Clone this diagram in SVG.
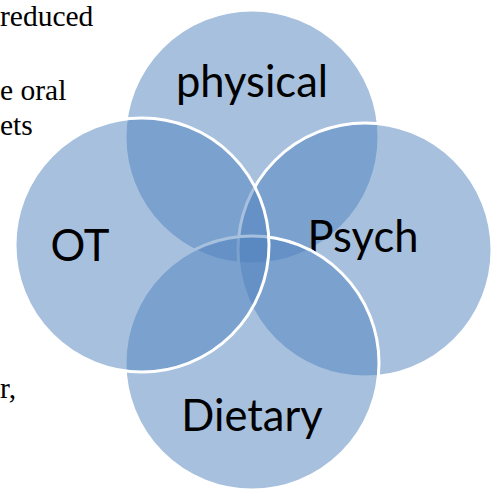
<svg xmlns="http://www.w3.org/2000/svg" width="498" height="491" viewBox="0 0 498 491">
<style>
.bg{font-family:"Liberation Serif","Times New Roman",serif;font-size:29.5px;fill:#000}
.c{fill:#4F81BD;fill-opacity:0.5;stroke:#fff;stroke-width:3}
.t{font-family:Lato,"Noto Sans",sans-serif;font-size:43.5px;fill:#000;text-anchor:middle}
</style>
<rect width="498" height="491" fill="#fff"/>
<g id="background-text">
<text class="bg" x="0" y="26">reduced</text>
<text class="bg" x="0" y="100">e oral</text>
<text class="bg" x="0" y="135">ets</text>
<text class="bg" x="0" y="398">r,</text>
</g>
<g id="physical"><circle class="c" cx="252" cy="137" r="127"/><text class="t" x="252" y="97">physical</text></g>
<g id="psych"><circle class="c" cx="365" cy="250" r="127"/><text class="t" x="363" y="252">Psych</text></g>
<g id="dietary"><circle class="c" cx="252" cy="363" r="127"/><text class="t" x="252" y="431">Dietary</text></g>
<g id="ot"><circle class="c" cx="142" cy="245" r="127"/><text class="t" x="80" y="261">OT</text></g>
<g id="connectors"></g>
</svg>
